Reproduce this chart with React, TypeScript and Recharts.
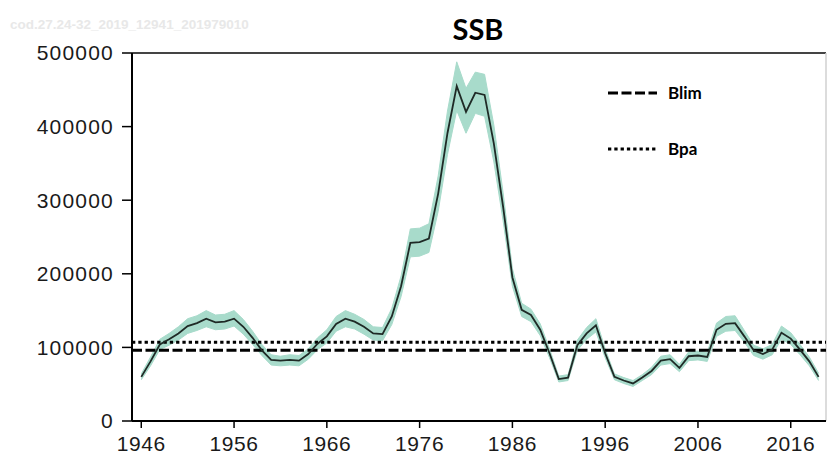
import React from "react";
import {
  ComposedChart,
  Area,
  Line,
  XAxis,
  YAxis,
  ReferenceLine,
  Legend,
} from "recharts";

const years = [
  1946, 1947, 1948, 1949, 1950, 1951, 1952, 1953, 1954, 1955, 1956, 1957, 1958, 1959,
  1960, 1961, 1962, 1963, 1964, 1965, 1966, 1967, 1968, 1969, 1970, 1971, 1972, 1973,
  1974, 1975, 1976, 1977, 1978, 1979, 1980, 1981, 1982, 1983, 1984, 1985, 1986, 1987,
  1988, 1989, 1990, 1991, 1992, 1993, 1994, 1995, 1996, 1997, 1998, 1999, 2000, 2001,
  2002, 2003, 2004, 2005, 2006, 2007, 2008, 2009, 2010, 2011, 2012, 2013, 2014, 2015,
  2016, 2017, 2018, 2019,
];

const ssb = [
  60000, 81000, 104000, 111000, 119000, 129000, 133000, 139000, 134000, 135000, 139000, 128000, 113000, 96000,
  83000, 82000, 83000, 82000, 91000, 105000, 115000, 132000, 139000, 135000, 128000, 119000, 118000, 142000,
  183000, 242000, 243000, 248000, 309000, 391000, 455000, 420000, 446000, 443000, 377000, 291000, 195000, 151000,
  144000, 124000, 92000, 57000, 59000, 103000, 119000, 130000, 92000, 60000, 55000, 51000, 59000, 68000,
  82000, 84000, 72000, 88000, 89000, 87000, 124000, 132000, 133000, 115000, 96000, 91000, 97000, 120000,
  112000, 97000, 81000, 60000,
];

const ssbLow = [
  56000, 75000, 97000, 103000, 110000, 119000, 123000, 128000, 124000, 125000, 129000, 118000, 104000, 89000,
  76000, 75000, 76000, 75000, 84000, 97000, 106000, 122000, 128000, 125000, 118000, 110000, 109000, 131000,
  169000, 223000, 224000, 229000, 285000, 362000, 422000, 391000, 418000, 414000, 352000, 272000, 183000, 142000,
  135000, 116000, 86000, 53000, 55000, 96000, 111000, 121000, 86000, 56000, 51000, 47000, 55000, 63000,
  76000, 78000, 67000, 82000, 83000, 81000, 115000, 122000, 123000, 107000, 89000, 84000, 90000, 111000,
  104000, 90000, 75000, 55000,
];

const ssbHigh = [
  64000, 87000, 111000, 119000, 128000, 139000, 143000, 150000, 144000, 145000, 150000, 138000, 122000, 104000,
  90000, 88000, 90000, 89000, 98000, 113000, 124000, 142000, 150000, 145000, 138000, 128000, 127000, 153000,
  197000, 261000, 262000, 268000, 333000, 421000, 488000, 452000, 474000, 471000, 402000, 310000, 207000, 160000,
  152000, 132000, 98000, 61000, 63000, 110000, 127000, 139000, 98000, 64000, 59000, 55000, 63000, 73000,
  88000, 90000, 77000, 94000, 95000, 93000, 133000, 142000, 143000, 123000, 103000, 98000, 104000, 129000,
  120000, 104000, 87000, 65000,
];

const blim = 96000;
const bpa = 107000;

const xTicks = [1946, 1956, 1966, 1976, 1986, 1996, 2006, 2016];
const yTicks = [0, 100000, 200000, 300000, 400000, 500000];

const titleText = "SSB";
const watermarkText = "cod.27.24-32_2019_12941_201979010";
const legendItems = [
  { name: "Blim", dash: "10 3.5" },
  { name: "Bpa", dash: "3.3 3" },
];

const data = years.map((year, i) => ({
  year,
  ssb: ssb[i],
  band: [ssbLow[i], ssbHigh[i]],
}));

const tickFont = "'Liberation Sans', Arial, sans-serif";

const LegendBox = () => (
  <svg width={130} height={90} style={{ overflow: "visible" }}>
    {legendItems.map((it, i) => (
      <g key={it.name} transform={`translate(0, ${i * 56})`}>
        <line x1={0} x2={49} y1={12} y2={12} stroke="#000" strokeWidth={3} strokeDasharray={it.dash} />
        <text
          x={60}
          y={18}
          fontFamily="Lato, 'Noto Sans', sans-serif"
          fontWeight={700}
          fontSize={17}
          fill="#000"
        >
          {it.name}
        </text>
      </g>
    ))}
  </svg>
);

export default function App() {
  return (
    <div style={{ position: "absolute", left: 0, top: 0, width: 827, height: 459, background: "#fff" }}>
      <ComposedChart
        width={827}
        height={459}
        data={data}
        margin={{ top: 53, right: 1, bottom: 0, left: 0 }}
      >
        <XAxis
          dataKey="year"
          type="number"
          domain={[1945, 2019.8]}
          ticks={xTicks}
          allowDataOverflow
          height={38}
          tickSize={7}
          tickMargin={8}
          axisLine={{ stroke: "#000", strokeWidth: 2 }}
          tickLine={{ stroke: "#000", strokeWidth: 1.5 }}
          tick={{ fill: "#1a1a1a", fontSize: 21, fontFamily: tickFont, letterSpacing: 0.6 }}
        />
        <YAxis
          type="number"
          domain={[0, 500000]}
          ticks={yTicks}
          width={132}
          tickSize={10}
          tickMargin={8}
          axisLine={{ stroke: "#000", strokeWidth: 2 }}
          tickLine={{ stroke: "#000", strokeWidth: 1.5 }}
          tick={{ fill: "#1a1a1a", fontSize: 21, fontFamily: tickFont, letterSpacing: 1.2 }}
        />
        <ReferenceLine y={500000} stroke="#444" strokeWidth={2} />
        <ReferenceLine x={2019.8} stroke="#d0d0d0" strokeWidth={1.5} />
        <Area
          dataKey="band"
          type="linear"
          stroke="#a8dbcb"
          strokeWidth={1}
          fill="#a8dbcb"
          fillOpacity={1}
          isAnimationActive={false}
          dot={false}
          activeDot={false}
        />
        <ReferenceLine y={bpa} stroke="#000" strokeWidth={3} strokeDasharray="3.3 3" />
        <ReferenceLine y={blim} stroke="#000" strokeWidth={3} strokeDasharray="10 3.5" />
        <Line
          dataKey="ssb"
          type="linear"
          stroke="#1f2a26"
          strokeWidth={1.8}
          dot={false}
          activeDot={false}
          isAnimationActive={false}
        />
        <Legend
          layout="vertical"
          align="center"
          verticalAlign="middle"
          content={() => <LegendBox />}
          wrapperStyle={{ left: 608, top: 81, width: 130, height: 90 }}
        />
      </ComposedChart>
      <svg
        width={827}
        height={459}
        style={{ position: "absolute", left: 0, top: 0, pointerEvents: "none" }}
      >
        <text
          x={10}
          y={29}
          fontFamily="'Liberation Sans', Arial, sans-serif"
          fontWeight={700}
          fontSize={13.5}
          fill="#e8e8e8"
        >
          {watermarkText}
        </text>
        <text
          x={478}
          y={40}
          textAnchor="middle"
          fontFamily="Lato, 'Noto Sans', sans-serif"
          fontWeight={700}
          fontSize={29}
          fill="#000"
        >
          {titleText}
        </text>
      </svg>
    </div>
  );
}
